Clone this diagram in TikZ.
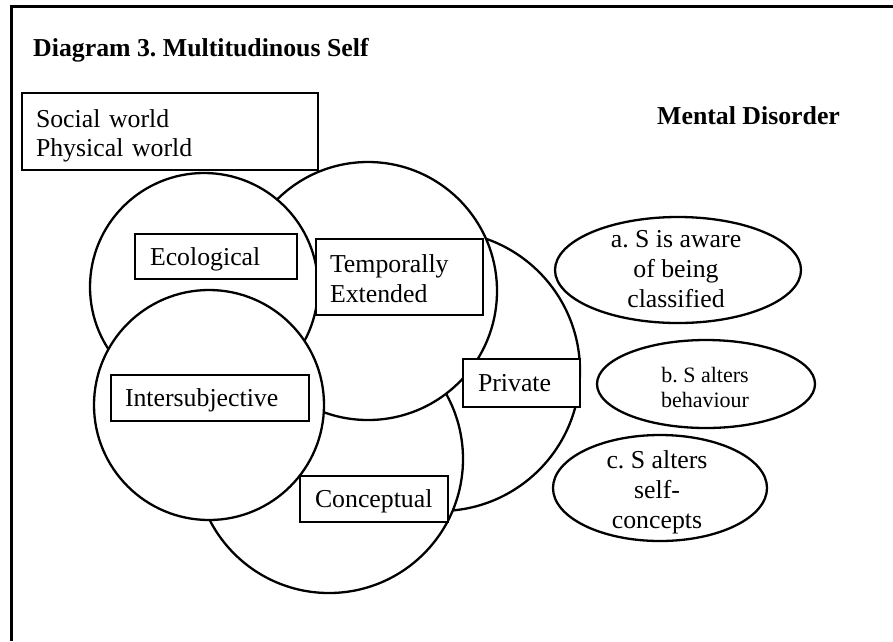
\documentclass[tikz,border=0pt]{standalone}
\usepackage{fontspec}
\setmainfont{Liberation Serif}
\frenchspacing

\begin{document}
\begin{tikzpicture}[x=1pt,y=-1pt,
        ring/.style={draw,fill=white,line width=2.3pt},
        oval/.style={draw,line width=2.3pt},
        tag/.style={draw,fill=white,line width=2.8pt,align=left,inner xsep=14pt,inner ysep=0pt,text depth=0pt,font=\fontsize{25.8}{30}\selectfont},
        effect/.style={align=center,anchor=base,inner sep=0pt,font=\fontsize{25.8}{30}\selectfont},
        heading/.style={anchor=base west,inner sep=0pt,font=\bfseries\fontsize{25.8}{30}\selectfont}]
        \useasboundingbox (0,0) rectangle (893,641);
        \draw[line width=3pt] (11,641) -- (11,6) -- (893,6);
        \node[heading] (title) at (33,56) {Diagram 3. Multitudinous Self};
        \node[heading] (disorder) at (657,124) {Mental Disorder};
        \node[tag,minimum height=77pt,text width=268pt,text depth=26.6pt,font=\fontsize{25.8}{29}\selectfont] (world) at (170,131.5) {Social world\\Physical world};
        % selves, back to front
        \draw[ring] (440,371) circle (140pt);
        \draw[ring] (329,459) circle (134pt);
        \draw[ring] (368,291) circle (129pt);
        \draw[ring] (204,287) circle (114pt);
        \draw[ring] (209,405) circle (115pt);
        \node[tag,minimum height=45pt,text width=132pt,inner xsep=15pt] (ecological) at (216,256.5) {Ecological};
        \node[tag,minimum height=76pt,text width=139pt,text depth=27.6pt] (temporal) at (399.5,277) {Temporally\\Extended};
        \node[tag,minimum height=46pt,text width=170pt] (intersubjective) at (210,398) {Intersubjective};
        \node[tag,minimum height=48pt,text width=87pt,inner xsep=15pt] (private) at (521.5,383) {Private};
        \node[tag,minimum height=46pt,text width=118pt,inner xsep=15pt] (conceptual) at (374,499) {Conceptual};
        % effects of being classified
        \draw[oval] (678,270) ellipse (123pt and 53pt);
        \draw[oval] (706,384) ellipse (109pt and 44pt);
        \draw[oval] (660,488) ellipse (107pt and 53pt);
        \node[effect] (aware) at (676,307) {a. S is aware\\of being\\classified};
        \node[effect,font=\fontsize{22}{25}\selectfont] (behaviour) at (705,407) {b. S alters\\behaviour};
        \node[effect] (selfconcepts) at (657,528) {c. S alters\\self-\\concepts};
    \end{tikzpicture}
\end{document}
